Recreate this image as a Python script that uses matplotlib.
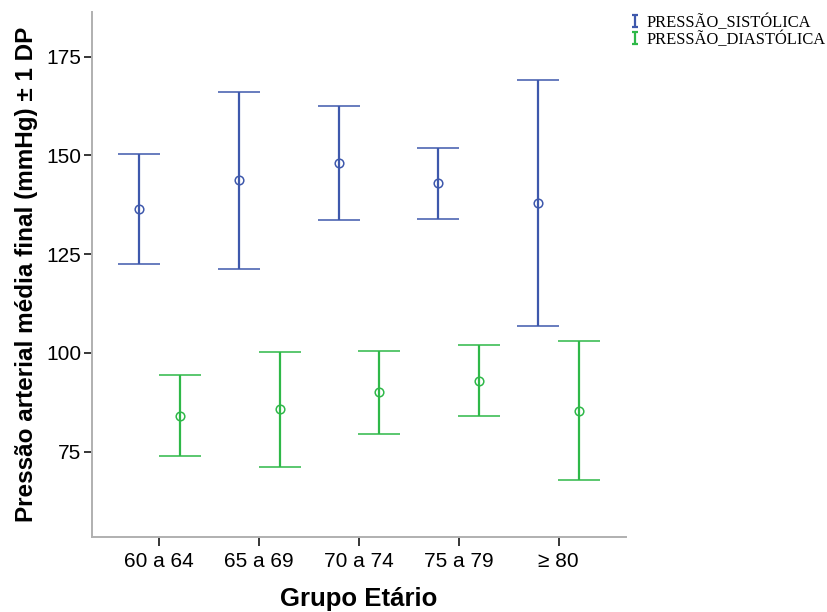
import matplotlib
matplotlib.use("Agg")
import matplotlib.pyplot as plt
import numpy as np
from matplotlib.path import Path
from matplotlib.lines import Line2D

plt.rcParams.update({"font.family": ["Liberation Sans", "DejaVu Sans"]})

grupos = ["60 a 64", "65 a 69", "70 a 74", "75 a 79", "\u2265 80"]
# média e desvio padrão por grupo etário (mmHg)
sist_media = [136.4, 143.7, 148.1, 142.9, 138.0]
sist_dp = [13.9, 22.4, 14.5, 8.9, 31.1]
diast_media = [84.1, 85.7, 90.0, 93.0, 85.4]
diast_dp = [10.3, 14.5, 10.5, 9.0, 17.6]

COR_SIST = "#3E58AC"
COR_DIAST = "#2EB848"

fig = plt.figure(figsize=(8.27, 6.12), dpi=100)
ax = fig.add_axes([92.3 / 827, 1 - 537 / 612, (626 - 92.3) / 827, (537 - 12) / 612])

x = np.arange(len(grupos))
desl = 0.205
for xs, med, dp, cor in [(x - desl, sist_media, sist_dp, COR_SIST),
                         (x + desl, diast_media, diast_dp, COR_DIAST)]:
    ax.errorbar(xs, med, yerr=dp, fmt="o", mfc="none", mec=cor, mew=1.1, ms=6.2,
                ecolor=cor, elinewidth=1.6, capsize=15, capthick=1.6)

ax.set_xlim(-0.671, 4.674)
ax.set_ylim(53.4, 186.3)
ax.set_xticks(x)
ax.set_xticklabels(grupos)
ax.set_yticks([75, 100, 125, 150, 175])
ax.tick_params(axis="both", labelsize=15, colors="black", width=1.1)
ax.tick_params(axis="x", length=6.5, pad=4)
ax.tick_params(axis="y", length=5.5, pad=2.5)

for s in ["top", "right"]:
    ax.spines[s].set_visible(False)
for s in ["left", "bottom"]:
    ax.spines[s].set_color("#b0b0b0")
    ax.spines[s].set_linewidth(1.4)

ax.set_xlabel("Grupo Etário", fontsize=18.5, fontweight="bold", va="baseline")
ax.xaxis.set_label_coords(0.5, -0.1309)
ax.set_ylabel("Pressão arterial média final (mmHg) \u00b1 1 DP", fontsize=17.5,
              fontweight="bold", va="baseline")
ax.yaxis.set_label_coords(-0.111, 0.5)

# símbolo de barra de erro para a legenda
ibeam = Path([(-0.45, -1), (0.45, -1), (0, -1), (0, 1), (-0.45, 1), (0.45, 1)],
             [Path.MOVETO, Path.LINETO, Path.MOVETO, Path.LINETO, Path.MOVETO, Path.LINETO])
handles = [Line2D([], [], ls="none", marker=ibeam, ms=9, mew=1.6, color=COR_SIST),
           Line2D([], [], ls="none", marker=ibeam, ms=9, mew=1.6, color=COR_DIAST)]
fig.legend(handles, ["PRESSÃO_SISTÓLICA", "PRESSÃO_DIASTÓLICA"],
           loc="upper left", bbox_to_anchor=(620 / 827, 1 - 6 / 612), frameon=False,
           borderpad=0, handlelength=0.8, handletextpad=0.3, labelspacing=0.05,
           prop={"family": "Liberation Serif", "size": 11.9})

fig.savefig("out.png", dpi=100)
